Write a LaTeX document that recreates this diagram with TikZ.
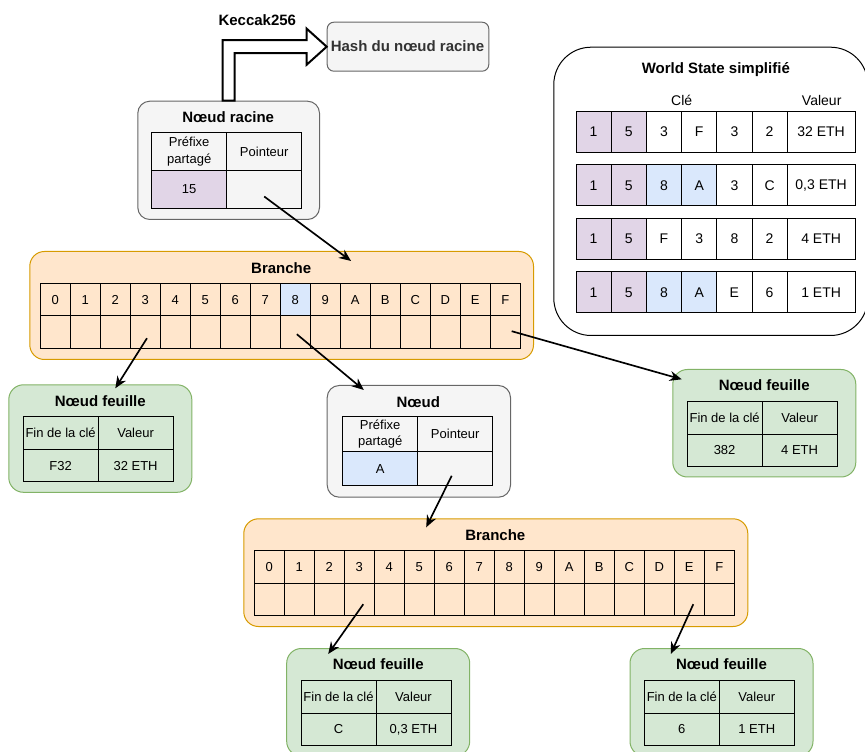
\documentclass[tikz,border=0pt]{standalone}
\usepackage{fontspec}
\setmainfont{Liberation Sans}
\usetikzlibrary{calc,arrows.meta}
\definecolor{grayF}{HTML}{F5F5F5}
\definecolor{grayS}{HTML}{666666}
\definecolor{orangeF}{HTML}{FFE6CC}
\definecolor{orangeS}{HTML}{D79B00}
\definecolor{greenF}{HTML}{D5E8D4}
\definecolor{greenS}{HTML}{82B366}
\definecolor{purpleF}{HTML}{E1D5E7}
\definecolor{blueF}{HTML}{DAE8FC}
\definecolor{txtgray}{HTML}{333333}
\newcommand\leafnode[5]{%
  \node[grbox, minimum width=183*0.75pt, minimum height=107.5*0.75pt] (#1) at (#2,#3) {};
  \node[ttl] (#1t) at ($(#1.north)+(0,16.5)$) {Nœud feuille};
  \node[cell, minimum width=56.25pt, minimum height=24.4pt] (#1a) at ($(#1.north west)+(14.8,32.5)$) {Fin de la clé};
  \node[cell, minimum width=56.25pt, minimum height=24.4pt] (#1b) at (#1a.north east) {Valeur};
  \node[cell, minimum width=56.25pt, minimum height=24.4pt] (#1c) at (#1a.south west) {#4};
  \node[cell, minimum width=56.25pt, minimum height=24.4pt] (#1d) at (#1c.north east) {#5};
}
\begin{document}
\begin{tikzpicture}[x=0.75pt,y=-0.75pt,
  box/.style={draw, line width=0.75pt, anchor=north west, inner sep=0pt},
  graybox/.style={box, fill=grayF, draw=grayS, rounded corners=9pt},
  orbox/.style={box, fill=orangeF, draw=orangeS, rounded corners=11pt},
  grbox/.style={box, fill=greenF, draw=greenS, rounded corners=11pt},
  cell/.style={draw=black, line width=0.75pt, anchor=north west, inner sep=0pt, outer sep=0pt,
    font=\fontsize{9.75pt}{12.5pt}\selectfont, align=center},
  wcell/.style={cell, minimum width=35.2*0.75pt, minimum height=41*0.75pt, font=\fontsize{10.5pt}{12.5pt}\selectfont},
  bcell/.style={cell, minimum width=22.5pt, minimum height=24.3pt},
  ttl/.style={font=\fontsize{11.25pt}{13pt}\selectfont\bfseries, inner sep=0pt},
  lbl/.style={font=\fontsize{10.5pt}{12.5pt}\selectfont, inner sep=0pt},
  arr/.style={draw=black, line width=1.25pt, -{Stealth[length=9pt,width=7.5pt]}},
  flex/.style={draw=black, fill=white, line width=1.5pt, line join=miter},
]
\useasboundingbox (0,0) rectangle (865,752);

% Hash box
\node[graybox, rounded corners=5pt, minimum width=161.6*0.75pt, minimum height=49*0.75pt] (hash) at (326.7,21.7) {};
\node[ttl, text=txtgray] (hasht) at (407.5,46.2) {Hash du nœud racine};

% Root node
\node[graybox, minimum width=181.7*0.75pt, minimum height=118.3*0.75pt] (root) at (137.3,100.7) {};
\node[ttl] (roott) at (228.2,117) {Nœud racine};
\node[cell, minimum width=56.25pt, minimum height=28.8pt] (rA1) at (151.7,132.3) {Préfixe\\partagé};
\node[cell, minimum width=56.25pt, minimum height=28.8pt] (rA2) at (rA1.north east) {Pointeur};
\node[cell, fill=purpleF, minimum width=56.25pt, minimum height=28.2pt] (rB1) at (rA1.south west) {15};
\node[cell, minimum width=56.25pt, minimum height=28.2pt] (rB2) at (rB1.north east) {};

% Keccak arrow
\node[ttl] (kec) at (257.3,20) {Keccak256};
\coordinate (kb) at (root.north);
\coordinate (kt) at (hash.west);
\draw[flex] ($(kb)+(-6,0)$) |- ($(kt)+(-20,-6.5)$) -- ($(kt)+(-20,-18)$) -- (kt)
  -- ($(kt)+(-20,18)$) -- ($(kt)+(-20,6.5)$) -| ($(kb)+(6,0)$) -- cycle;

% World state
\node[box, fill=white, draw=black, rounded corners=28pt, minimum width=314*0.75pt, minimum height=288.3*0.75pt] (ws) at (553.3,46.7) {};
\node[ttl] (wst) at (715.8,69.3) {World State simplifié};
\node[lbl] (wcle) at (681.7,100) {Clé};
\node[lbl] (wval) at (821.7,100) {Valeur};
\foreach \r/\a/\b/\c/\d/\v/\fc in {0/3/F/3/2/32 ETH/none, 1/8/A/3/C/{0,3 ETH}/blueF, 2/F/3/8/2/4 ETH/none, 3/8/A/E/6/1 ETH/blueF} {
  \pgfmathsetmacro\yy{111.5+53.5*\r}
  \node[wcell, fill=purpleF] (w\r-c0) at (576,\yy) {1};
  \node[wcell, fill=purpleF] (w\r-c1) at (611.2,\yy) {5};
  \node[wcell, fill=\fc] (w\r-c2) at (646.4,\yy) {\a};
  \node[wcell, fill=\fc] (w\r-c3) at (681.6,\yy) {\b};
  \node[wcell] (w\r-c4) at (716.8,\yy) {\c};
  \node[wcell] (w\r-c5) at (752,\yy) {\d};
  \node[wcell, minimum width=67.8*0.75pt] (w\r-c6) at (787.2,\yy) {\v};
}

% Branch 1
\node[orbox, minimum width=503.7*0.75pt, minimum height=108*0.75pt] (br1) at (29.3,251) {};
\node[ttl] (br1t) at (281.2,268) {Branche};
\foreach \i/\t/\f in {0/0/none,1/1/none,2/2/none,3/3/none,4/4/none,5/5/none,6/6/none,7/7/none,8/8/blueF,9/9/none,10/A/none,11/B/none,12/C/none,13/D/none,14/E/none,15/F/none} {
  \node[bcell, fill=\f] (b1A\i) at ({40.3+30*\i},283.6) {\t};
  \node[bcell] (b1B\i) at ({40.3+30*\i},316) {};
}

% Noeud
\node[graybox, minimum width=183.3*0.75pt, minimum height=111.7*0.75pt] (noeud) at (326.7,385) {};
\node[ttl] (noeudt) at (418.3,401.7) {Nœud};
\node[cell, minimum width=56.25pt, minimum height=26.25pt] (nA1) at (342.7,416.7) {Préfixe\\partagé};
\node[cell, minimum width=56.25pt, minimum height=26.25pt] (nA2) at (nA1.north east) {Pointeur};
\node[cell, fill=blueF, minimum width=56.25pt, minimum height=25.7pt] (nB1) at (nA1.south west) {A};
\node[cell, minimum width=56.25pt, minimum height=25.7pt] (nB2) at (nB1.north east) {};

% Branch 2
\node[orbox, minimum width=504*0.75pt, minimum height=107.7*0.75pt] (br2) at (243.3,518.3) {};
\node[ttl] (br2t) at (495.3,535) {Branche};
\foreach \i/\t in {0/0,1/1,2/2,3/3,4/4,5/5,6/6,7/7,8/8,9/9,10/A,11/B,12/C,13/D,14/E,15/F} {
  \node[bcell] (b2A\i) at ({254.3+30*\i},550.7) {\t};
  \node[bcell] (b2B\i) at ({254.3+30*\i},583) {};
}

% Leaves
\leafnode{leafA}{8.3}{384.3}{F32}{32 ETH}
\leafnode{leafB}{672.3}{369}{382}{4 ETH}
\leafnode{leafC}{286.2}{648}{C}{0,3 ETH}
\leafnode{leafD}{629.5}{648}{6}{1 ETH}

% Connectors
\draw[arr] ($(rB2.center)+(0,7)$) -- ($(br1.north)+(69.4,10)$);
\draw[arr] ($(b1B3.center)+(1.7,6)$) -- ($(leafA.north)+(15,4)$);
\draw[arr] ($(b1B8.center)+(1.5,2)$) -- ($(noeud.north)+(-55,5)$);
\draw[arr] ($(b1B15.center)+(6.4,-1)$) -- ($(leafB.north west)+(9.4,10.3)$);
\draw[arr] ($(nB2.center)+(-3.5,7)$) -- ($(br2.north)+(-69.6,9)$);
\draw[arr] ($(b2B3.center)+(4,5)$) -- ($(leafC.north)+(-50,6)$);
\draw[arr] ($(b2B14.center)+(4,5)$) -- ($(leafD.north)+(-50.75,6)$);
\end{tikzpicture}
\end{document}
